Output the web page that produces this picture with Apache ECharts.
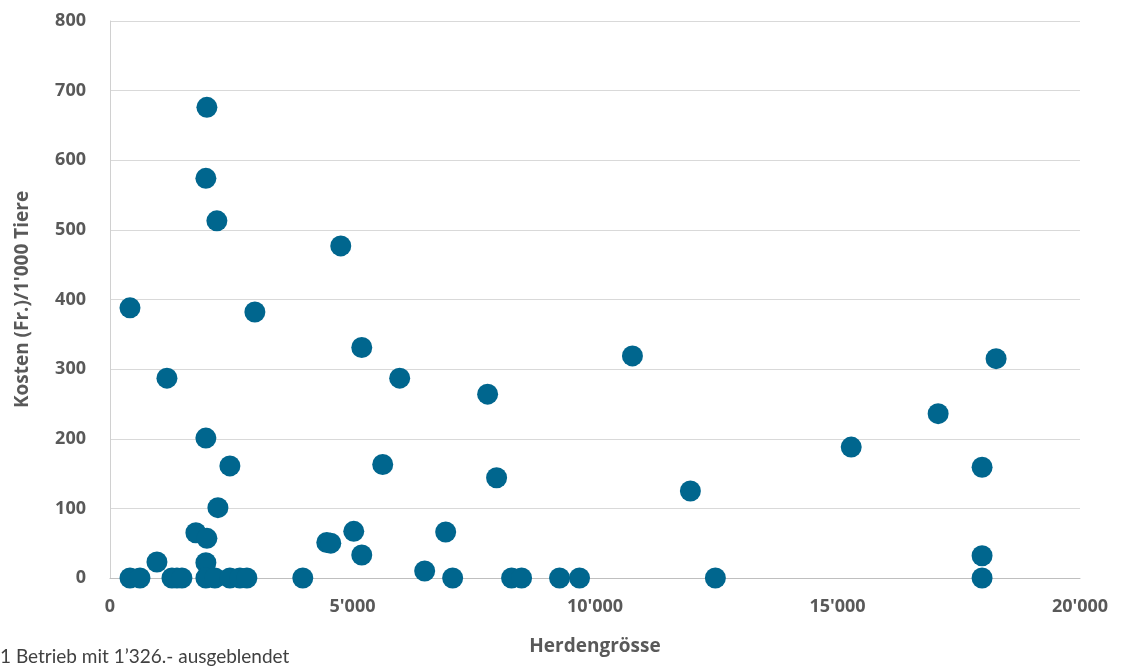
<!DOCTYPE html>
<html>
<head>
<meta charset="utf-8">
<script src="https://cdn.jsdelivr.net/npm/echarts@6/dist/echarts.min.js"></script>
<style>html,body{margin:0;padding:0;background:#fff}#c{width:1123px;height:670px}</style>
</head>
<body>
<div id="c"></div>
<script>
var herdSize = [412, 618, 412, 968, 1174, 1277, 1380, 1483, 1771, 1998, 1977, 1977, 2163, 2472, 2678, 2822,
  1998, 1977, 2204, 1977, 2472, 2225, 2987, 3975, 4470, 4552, 4758, 5026, 5191, 5191, 5623, 5973,
  6488, 6921, 7065, 7786, 7971, 8280, 8486, 9269, 9681, 10772, 11967, 12482, 15283, 17075, 17981, 17981, 17981, 18270];
var costs = [0, 0, 388, 23, 287, 0, 0, 0, 65, 57, 22, 0, 0, 0, 0, 0,
  676, 574, 513, 201, 161, 101, 382, 0, 51, 50, 477, 67, 33, 331, 163, 287,
  10, 66, 0, 264, 144, 0, 0, 0, 0, 319, 125, 0, 188, 236, 159, 32, 0, 315];
var xTicks = [0, 5000, 10000, 15000, 20000];
var yTicks = [0, 100, 200, 300, 400, 500, 600, 700, 800];
var xTitle = 'Herdengrösse';
var yTitle = "Kosten (Fr.)/1'000 Tiere";
var footnote = "1 Betrieb mit 1’326.- ausgeblendet";

var points = herdSize.map(function (x, i) { return [x, costs[i]]; });
function fmt(v) { return String(v).replace(/\B(?=(\d{3})+(?!\d))/g, "'"); }
var font = '"Open Sans", sans-serif';
var chart = echarts.init(document.getElementById('c'), null, {renderer: 'canvas'});
chart.setOption({
  animation: false,
  grid: {left: 110, right: 43, top: 21, bottom: 92},
  xAxis: {
    type: 'value', min: xTicks[0], max: xTicks[xTicks.length - 1], interval: 5000,
    name: xTitle, nameLocation: 'middle', nameGap: 59,
    nameTextStyle: {fontFamily: font, fontWeight: 'bold', fontSize: 19, color: '#595959'},
    axisLine: {show: true, lineStyle: {color: '#bfbfbf', width: 1}},
    axisTick: {show: false},
    splitLine: {show: false},
    axisLabel: {fontFamily: font, fontWeight: 'bold', fontSize: 18, color: '#595959', margin: 20, formatter: fmt}
  },
  yAxis: {
    type: 'value', min: yTicks[0], max: yTicks[yTicks.length - 1], interval: 100,
    name: yTitle, nameLocation: 'middle', nameGap: 78,
    nameTextStyle: {fontFamily: font, fontWeight: 'bold', fontSize: 19, color: '#595959'},
    axisLine: {show: true, lineStyle: {color: '#d0d0d0', width: 1}},
    axisTick: {show: false},
    splitLine: {show: true, lineStyle: {color: '#d9d9d9', width: 1}},
    axisLabel: {fontFamily: font, fontWeight: 'bold', fontSize: 18, color: '#595959', margin: 24, formatter: fmt}
  },
  graphic: [{
    type: 'text', left: 0, top: 647,
    style: {text: footnote, fontFamily: 'Lato, sans-serif', fontSize: 19, fill: '#404040'}
  }],
  series: [{
    type: 'scatter', data: points, symbolSize: 21,
    itemStyle: {color: '#00668e', opacity: 1}
  }]
});
</script>
</body>
</html>
